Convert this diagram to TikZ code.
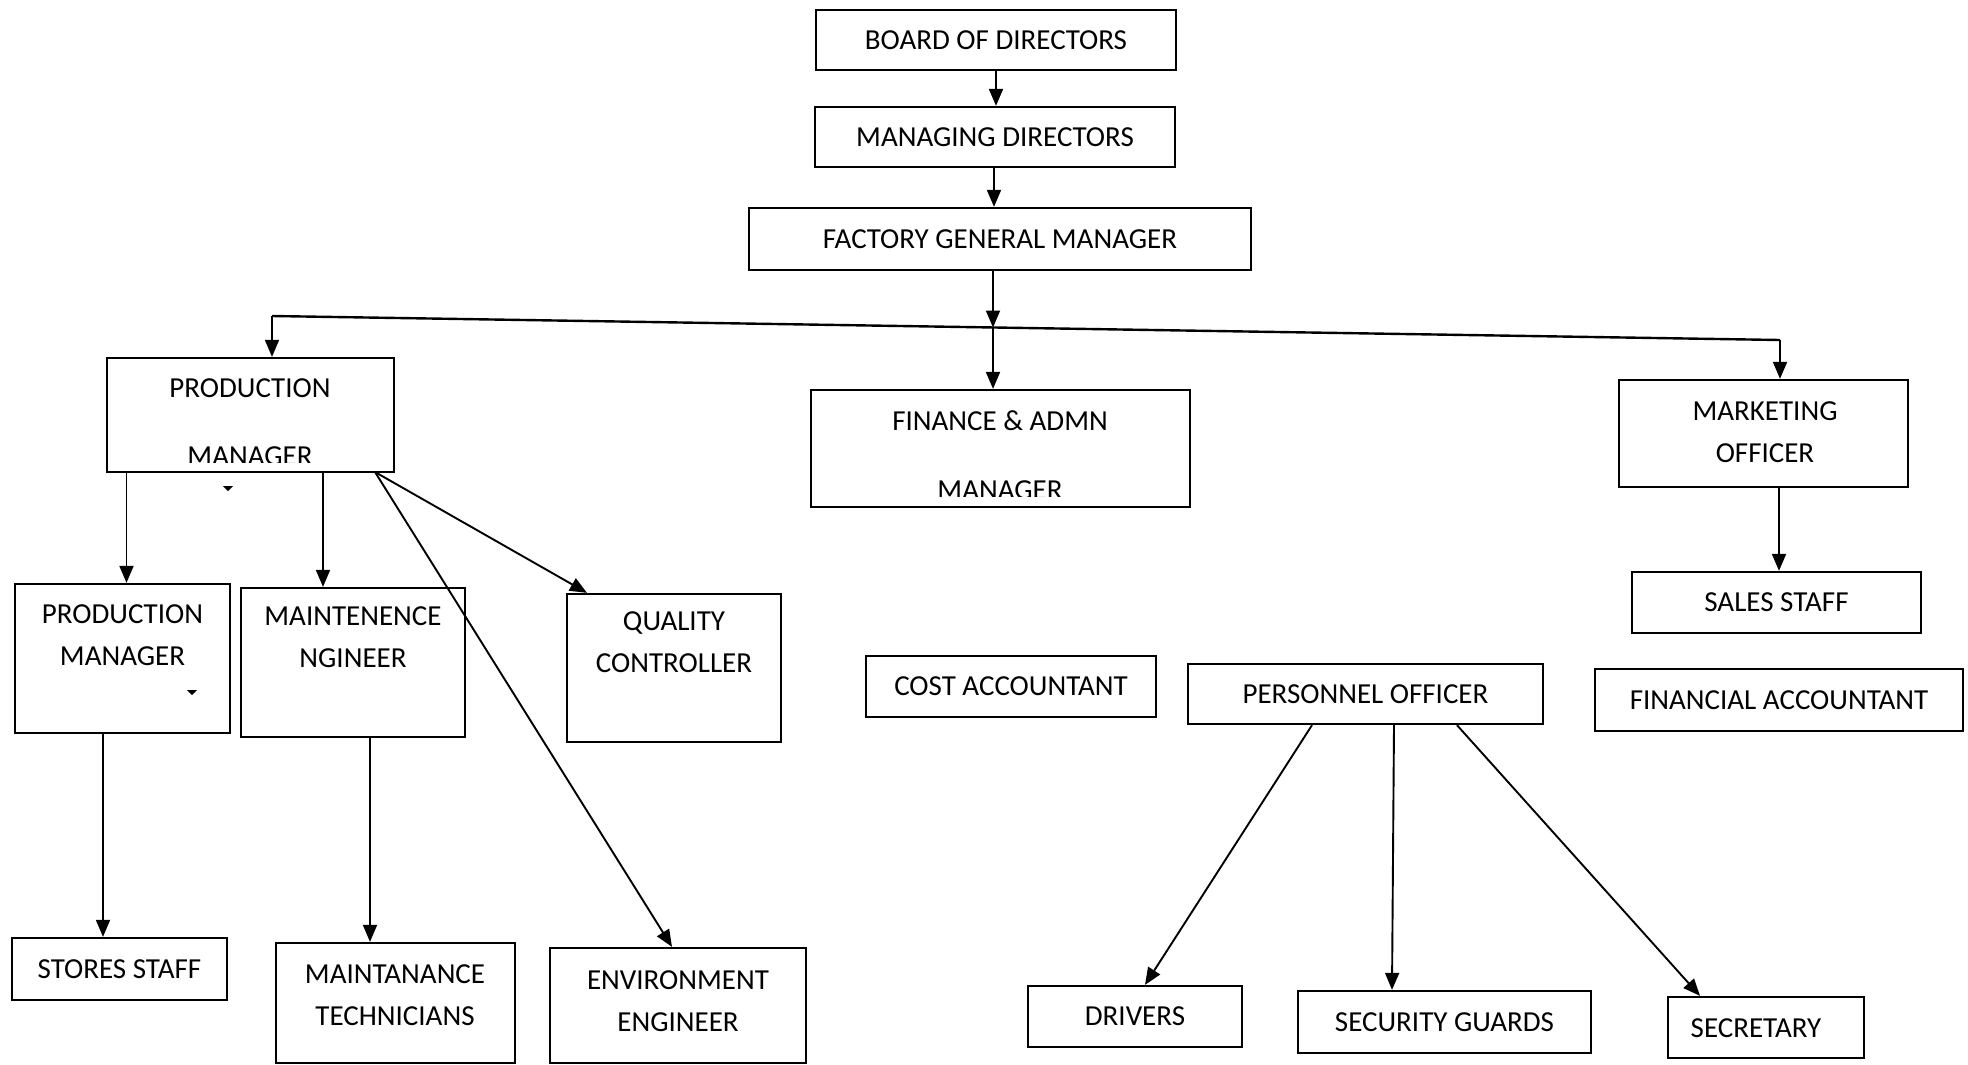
\documentclass[tikz,border=0pt]{standalone}
\usepackage{fontspec}
\setmainfont{Carlito}
\usetikzlibrary{arrows.meta}
\begin{document}
\begin{tikzpicture}[x=1pt,y=-1pt,
  bx/.style 2 args={draw, line width=2.3pt, inner sep=0pt, minimum width=#1, minimum height=#2},
  txt/.style={font=\fontsize{29}{42}\selectfont, align=center, inner sep=0pt},
  arr/.style={line width=1.9pt, -{Triangle[length=17pt,width=14pt]}},
  ln/.style={line width=2.4pt}
  ]
\fill[white] (0,0) rectangle (1968,1065);
\useasboundingbox (0,0) rectangle (1968,1065);

% top chain
\node[bx={360pt}{60pt}, txt] (bod) at (996,40) {BOARD OF DIRECTORS};
\node[bx={360pt}{60pt}, txt] (md) at (995,137) {MANAGING DIRECTORS};
\node[bx={502pt}{62pt}, txt] (fgm) at (1000,239) {FACTORY GENERAL MANAGER};

% second level
\node[bx={287pt}{114pt}] (pm) at (250.5,415) {};
\node[bx={379pt}{117pt}] (fin) at (1000.5,448.5) {};
\node[bx={289pt}{107pt}] (mkt) at (1763.5,433.5) {};

\node[txt, anchor=base] (pmt1) at (250,397) {PRODUCTION};
\begin{scope}
  \clip (pm.north west) rectangle ([yshift=11pt]pm.south east);
  \node[txt, anchor=base] (pmt2) at (250,465) {MANAGER};
\end{scope}
\node[txt, anchor=base] (fint1) at (1000,430) {FINANCE \& ADMN};
\begin{scope}
  \clip (fin.north west) rectangle ([yshift=12pt]fin.south east);
  \node[txt, anchor=base] (fint2) at (1000,499) {MANAGER};
\end{scope}
\node[txt] (mktt) at (1765,432.5) {MARKETING\\OFFICER};

% third level
\node[bx={289pt}{61pt}, txt] (sales) at (1776.5,602.5) {SALES STAFF};
\node[bx={215pt}{149pt}] (pm2) at (122.5,658.5) {};
\node[txt] (pm2t) at (122.5,635) {PRODUCTION\\MANAGER};
\node[bx={224pt}{149pt}] (meng) at (353,662.5) {};
\node[txt] (mengt) at (353,637.5) {MAINTENENCE\\NGINEER};
\node[bx={214pt}{148pt}] (qc) at (674,668) {};
\node[txt] (qct) at (674,642) {QUALITY\\CONTROLLER};
\node[bx={290pt}{61pt}, txt] (cost) at (1011,686.5) {COST ACCOUNTANT};
\node[bx={355pt}{60pt}, txt] (pers) at (1365.5,694) {PERSONNEL OFFICER};
\node[bx={368pt}{62pt}, txt] (facc) at (1779,700) {FINANCIAL ACCOUNTANT};

% bottom level
\node[bx={215pt}{62pt}, txt] (stores) at (119.5,969) {STORES STAFF};
\node[bx={239pt}{120pt}] (mtech) at (395.5,1003) {};
\node[txt] (mtecht) at (395,995) {MAINTANANCE\\TECHNICIANS};
\node[bx={256pt}{115pt}] (env) at (678,1005.5) {};
\node[txt] (envt) at (678,1001) {ENVIRONMENT\\ENGINEER};
\node[bx={214pt}{61pt}, txt] (drv) at (1135,1016.5) {DRIVERS};
\node[bx={293pt}{62pt}, txt] (sec) at (1444.5,1022) {SECURITY GUARDS};
\node[bx={196pt}{61pt}] (secr) at (1766,1027.5) {};
\node[txt] (secrt) at (1756,1028) {SECRETARY};

% connectors top
\draw[arr] (bod.south) -- (bod.south |- md.north);
\draw[arr] ([xshift=-1pt]md.south) -- ([xshift=-1pt]md.south |- fgm.north);
\coordinate (hL) at (272,316);
\coordinate (hR) at (1780,340);
\coordinate (hJ) at (993,327.5);
\draw[ln] (hL) -- (hR);
\draw[arr] (fgm.south -| hJ) -- (hJ);
\draw[arr] (hL) -- (hL |- pm.north);
\draw[arr] (hJ) -- (hJ |- fin.north);
\draw[arr] (hR) -- (hR |- mkt.north);

% production manager branches
\draw[arr] ([xshift=-124pt]pm.south) -- ([xshift=-124pt]pm.south |- pm2.north);
\draw[arr] ([xshift=72.5pt]pm.south) -- ([xshift=72.5pt]pm.south |- meng.north);
\coordinate (pmd) at (375,472);
\draw[arr] (pmd) -- ([xshift=-87pt]qc.north);
\draw[arr] (pmd) -- ([xshift=-6pt]env.north);
\draw[arr] ([xshift=-19.5pt]pm2.south) -- ([xshift=-19.5pt]pm2.south |- stores.north);
\draw[arr] ([xshift=17pt]meng.south) -- ([xshift=17pt]meng.south |- mtech.north);

% marketing
\draw[arr] ([xshift=15.5pt]mkt.south) -- ([xshift=15.5pt]mkt.south |- sales.north);

% personnel branches
\draw[arr] ([xshift=-53.5pt]pers.south) -- ([xshift=10pt]drv.north);
\draw[arr] ([xshift=28.5pt]pers.south) -- ([xshift=-52.5pt]sec.north);
\draw[arr] ([xshift=91.5pt]pers.south) -- ([xshift=-66pt]secr.north);

% small scan marks
\fill (223,486) -- (233,486) -- (228,491) -- cycle;
\fill (187,690) -- (197,690) -- (192,695) -- cycle;
\end{tikzpicture}
\end{document}
